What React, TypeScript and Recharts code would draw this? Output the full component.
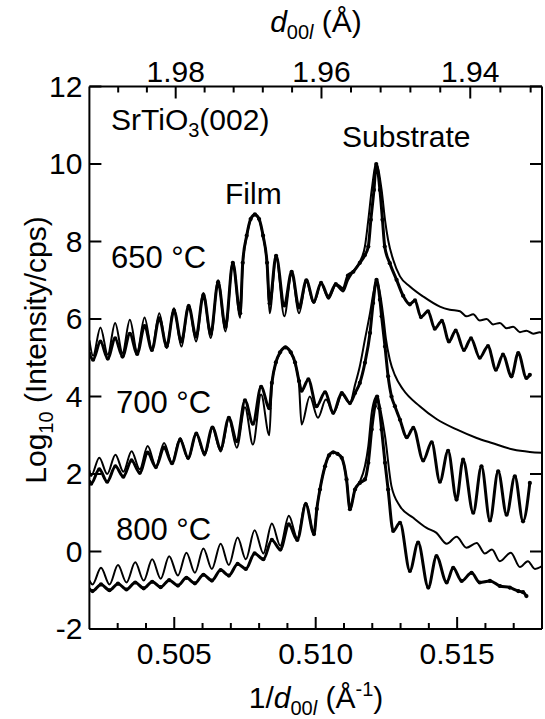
import React from "react";
import { LineChart, Line, XAxis, YAxis } from "recharts";

const FONT = "'Liberation Sans', Arial, Helvetica, sans-serif";
const P = { left: 89.4, right: 542, top: 86.5, bottom: 629 };

const xDomain = [0.502, 0.518];
const yDomain = [-2, 12];
const xTickValues = [0.503, 0.504, 0.505, 0.506, 0.507, 0.508, 0.509, 0.51, 0.511, 0.512, 0.513, 0.514, 0.515, 0.516, 0.517];
const xTickLabels = [0.505, 0.51, 0.515];
const yTickValues = [-2, 0, 2, 4, 6, 8, 10, 12];
const dTickValues = [1.988, 1.984, 1.98, 1.976, 1.972, 1.968, 1.964, 1.96, 1.956, 1.952, 1.948, 1.944, 1.94, 1.936, 1.932];
const dTickLabels = [1.98, 1.96, 1.94];

const meas650 = [
  [0.502, 5.1], [0.50213, 4.95], [0.50239, 5.42], [0.50265, 4.98], [0.50291, 5.5], [0.50317, 5.03], [0.50343, 5.62],
  [0.50369, 5.1], [0.50395, 5.82], [0.50421, 5.2], [0.50447, 6.02], [0.50473, 5.3], [0.50499, 6.22], [0.50525, 5.42],
  [0.50551, 6.33], [0.50577, 5.55], [0.50603, 6.62], [0.50629, 5.62], [0.50655, 6.95], [0.50681, 5.8], [0.50707, 7.45],
  [0.50733, 6.15], [0.50742, 7.45], [0.50756, 8.15], [0.5077, 8.58], [0.50785, 8.7], [0.508, 8.58], [0.50814, 8.15],
  [0.50828, 7.45], [0.50837, 6.4], [0.5086, 7.63], [0.50889, 6.35], [0.50915, 7.22], [0.50941, 6.3], [0.50967, 7.0],
  [0.50993, 6.45], [0.51019, 6.93], [0.51045, 6.58], [0.51071, 6.9], [0.51097, 6.78], [0.51114, 7.12], [0.51133, 7.22],
  [0.51156, 7.45], [0.51174, 7.65], [0.51186, 7.87], [0.51195, 8.56], [0.51206, 9.33], [0.51214, 10.0], [0.51227, 9.33],
  [0.51236, 8.56], [0.51244, 7.87], [0.51262, 7.44], [0.51286, 7.01], [0.51309, 6.6], [0.51333, 6.38], [0.51351, 6.48],
  [0.51372, 6.05], [0.51397, 6.2], [0.51421, 5.75], [0.51446, 5.95], [0.51471, 5.42], [0.51495, 5.7], [0.51524, 5.2],
  [0.51549, 5.5], [0.5158, 5.0], [0.51609, 5.3], [0.51637, 4.69], [0.51662, 5.08], [0.51692, 4.52], [0.51716, 5.12],
  [0.51745, 4.48], [0.51757, 4.56],
];

const sim650 = [
  [0.502, 5.45], [0.50213, 5.05], [0.50239, 5.78], [0.50265, 5.08], [0.50291, 5.9], [0.50317, 5.12], [0.50343, 5.98],
  [0.50369, 5.16], [0.50395, 6.04], [0.50421, 5.21], [0.50447, 6.15], [0.50473, 5.25], [0.50499, 6.28], [0.50525, 5.29],
  [0.50551, 6.37], [0.50577, 5.42], [0.50603, 6.67], [0.50629, 5.51], [0.50655, 7.0], [0.50681, 5.68], [0.50707, 7.48],
  [0.50733, 6.03], [0.50742, 7.4], [0.50756, 8.13], [0.5077, 8.56], [0.50785, 8.68], [0.508, 8.56], [0.50814, 8.13],
  [0.50828, 7.4], [0.50837, 6.15], [0.5086, 7.61], [0.50889, 6.07], [0.50915, 7.19], [0.50941, 6.15], [0.50967, 6.97],
  [0.50993, 6.41], [0.51019, 6.91], [0.51045, 6.52], [0.51071, 6.87], [0.51097, 6.71], [0.51114, 7.0], [0.51133, 7.23],
  [0.51156, 7.48], [0.51174, 7.87], [0.51186, 8.56], [0.51198, 9.33], [0.51214, 10.0], [0.51233, 9.33], [0.51245, 8.56],
  [0.51256, 8.04], [0.51274, 7.53], [0.51298, 7.1], [0.51333, 6.84], [0.5138, 6.58], [0.51439, 6.32], [0.51474, 6.24],
  [0.5151, 6.2], [0.51533, 6.07], [0.51557, 6.12], [0.5158, 5.96], [0.51604, 6.0], [0.51627, 5.86], [0.51651, 5.9],
  [0.51675, 5.76], [0.51698, 5.8], [0.51722, 5.66], [0.51745, 5.7], [0.51769, 5.62], [0.51792, 5.66], [0.518, 5.64],
];

const meas700 = [
  [0.502, 1.8], [0.50206, 1.75], [0.50235, 2.12], [0.50263, 1.8], [0.50292, 2.2], [0.5032, 1.93], [0.50349, 2.35],
  [0.50378, 2.03], [0.50406, 2.55], [0.50435, 2.18], [0.50464, 2.68], [0.50492, 2.28], [0.50521, 2.88], [0.50549, 2.42],
  [0.50578, 3.04], [0.50607, 2.54], [0.50635, 3.2], [0.50664, 2.65], [0.50693, 3.45], [0.50721, 2.85], [0.5075, 3.9],
  [0.50778, 3.3], [0.50807, 4.25], [0.50836, 3.7], [0.50845, 4.35], [0.50859, 4.88], [0.50874, 5.14], [0.50893, 5.27],
  [0.50912, 5.14], [0.50927, 4.88], [0.50941, 4.4], [0.5095, 4.15], [0.50974, 4.44], [0.51003, 3.75], [0.51033, 4.11],
  [0.51062, 3.58], [0.51092, 4.09], [0.51121, 3.83], [0.51139, 4.09], [0.51156, 4.35], [0.51174, 4.87], [0.51192, 5.64],
  [0.51203, 6.41], [0.51215, 7.01], [0.51227, 6.5], [0.51233, 6.07], [0.51245, 5.29], [0.51256, 4.52], [0.51268, 4.0],
  [0.5128, 3.75], [0.51298, 3.4], [0.51322, 2.95], [0.51345, 3.19], [0.5138, 2.35], [0.5141, 2.82], [0.51439, 1.8],
  [0.51468, 2.6], [0.51498, 1.34], [0.51521, 2.37], [0.51557, 1.0], [0.51586, 2.2], [0.51616, 0.8], [0.51645, 2.07],
  [0.51675, 0.95], [0.51704, 1.94], [0.51733, 0.78], [0.51757, 1.77],
];

const sim700 = [
  [0.502, 2.1], [0.50206, 1.95], [0.50235, 2.42], [0.50263, 2.0], [0.50292, 2.5], [0.5032, 2.06], [0.50349, 2.59],
  [0.50378, 2.12], [0.50406, 2.72], [0.50435, 2.2], [0.50464, 2.8], [0.50492, 2.28], [0.50521, 2.93], [0.50549, 2.38],
  [0.50578, 3.06], [0.50607, 2.48], [0.50635, 3.2], [0.50664, 2.58], [0.50693, 3.42], [0.50721, 2.68], [0.5075, 3.72],
  [0.50778, 2.76], [0.50807, 4.05], [0.50836, 3.0], [0.50845, 4.3], [0.50859, 4.85], [0.50874, 5.12], [0.50893, 5.25],
  [0.50912, 5.12], [0.50927, 4.85], [0.50941, 4.3], [0.5095, 3.28], [0.50979, 4.0], [0.51008, 3.45], [0.51036, 3.92],
  [0.51064, 3.58], [0.51093, 4.05], [0.51121, 3.83], [0.51139, 4.3], [0.51156, 4.78], [0.51174, 5.47], [0.51192, 6.15],
  [0.51206, 6.75], [0.51215, 7.0], [0.51225, 6.75], [0.51239, 6.07], [0.51248, 5.5], [0.51262, 4.95], [0.5128, 4.55],
  [0.51309, 4.18], [0.51368, 3.75], [0.51427, 3.42], [0.51498, 3.15], [0.51569, 2.93], [0.51623, 2.8], [0.51698, 2.63],
  [0.51757, 2.57], [0.518, 2.55],
];

const meas800 = [
  [0.502, -0.98], [0.50211, -1.02], [0.50241, -0.85], [0.50271, -1.0], [0.50301, -0.83], [0.50331, -0.98], [0.50362, -0.8],
  [0.50392, -0.95], [0.50422, -0.78], [0.50452, -0.92], [0.50482, -0.74], [0.50513, -0.88], [0.50543, -0.68], [0.50573, -0.82],
  [0.50603, -0.6], [0.50633, -0.75], [0.50664, -0.48], [0.50693, -0.62], [0.50724, -0.32], [0.50753, -0.45], [0.50784, -0.05],
  [0.50815, -0.2], [0.50845, 0.3], [0.50875, 0.05], [0.50905, 0.7], [0.50935, 0.3], [0.50965, 1.22], [0.50994, 0.45],
  [0.51004, 1.1], [0.51015, 1.6], [0.51033, 2.2], [0.51047, 2.48], [0.51062, 2.56], [0.51077, 2.52], [0.51092, 2.42],
  [0.51109, 1.86], [0.51121, 1.09], [0.51139, 1.6], [0.51156, 1.77], [0.51174, 1.86], [0.51186, 2.29], [0.51198, 3.15],
  [0.51209, 3.75], [0.51217, 4.0], [0.51225, 3.7], [0.51233, 3.15], [0.51245, 2.29], [0.51256, 1.6], [0.51274, 0.53],
  [0.51298, 0.74], [0.51333, -0.5], [0.51362, 0.23], [0.51398, -0.93], [0.51427, -0.12], [0.51463, -0.8], [0.51486, -0.42],
  [0.51516, -0.76], [0.51551, -0.55], [0.5158, -0.8], [0.51616, -0.76], [0.51651, -0.89], [0.51686, -0.93], [0.51716, -1.02],
  [0.51733, -1.05], [0.51745, -1.15],
];

const sim800 = [
  [0.502, -0.75], [0.50211, -0.85], [0.50241, -0.42], [0.50271, -0.85], [0.50301, -0.35], [0.50331, -0.8], [0.50362, -0.28],
  [0.50392, -0.75], [0.50422, -0.2], [0.50452, -0.7], [0.50482, -0.12], [0.50513, -0.62], [0.50543, -0.03], [0.50573, -0.55],
  [0.50603, 0.08], [0.50633, -0.45], [0.50664, 0.2], [0.50693, -0.35], [0.50724, 0.36], [0.50753, -0.2], [0.50784, 0.55],
  [0.50815, -0.05], [0.50845, 0.72], [0.50875, 0.15], [0.50905, 0.92], [0.50935, 0.35], [0.50965, 1.26], [0.50994, 0.45],
  [0.51004, 1.1], [0.51015, 1.6], [0.51033, 2.2], [0.51047, 2.48], [0.51062, 2.56], [0.51077, 2.52], [0.51092, 2.42],
  [0.51109, 1.86], [0.51121, 1.1], [0.51139, 1.6], [0.51156, 1.8], [0.51174, 2.2], [0.51186, 2.72], [0.51198, 3.58],
  [0.51215, 4.0], [0.51233, 3.5], [0.51245, 2.98], [0.51268, 1.68], [0.51298, 1.17], [0.51345, 0.87], [0.51392, 0.61],
  [0.51427, 0.48], [0.51463, 0.2], [0.51498, 0.38], [0.51533, 0.1], [0.51569, 0.22], [0.51598, -0.05], [0.51623, 0.05],
  [0.51651, -0.25], [0.5169, -0.03], [0.51722, -0.4], [0.5175, -0.25], [0.51775, -0.45], [0.518, -0.38],
];

const toRows = (pts: number[][]) => pts.map(([x, y]) => ({ x, y }));
const near = (a: number, list: number[], eps: number) => list.some((m) => Math.abs(m - a) < eps);

const BottomTick = (props: any) => {
  const { x, payload } = props;
  const v = payload.value;
  const major = near(v, xTickLabels, 1e-6);
  return (
    <g>
      <line x1={x} x2={x} y1={P.bottom} y2={P.bottom - (major ? 12 : 6)} stroke="#000" strokeWidth={2} />
      {major && (
        <text x={x} y={664} textAnchor="middle" fontSize={30} fontFamily={FONT} fill="#000">
          {v.toFixed(3)}
        </text>
      )}
    </g>
  );
};

const TopTick = (props: any) => {
  const { x, payload } = props;
  const d = 1 / payload.value;
  const major = near(d, dTickLabels, 1e-4);
  return (
    <g>
      <line x1={x} x2={x} y1={P.top} y2={P.top + (major ? 12 : 6)} stroke="#000" strokeWidth={2} />
      {major && (
        <text x={x} y={82} textAnchor="middle" fontSize={30} fontFamily={FONT} fill="#000">
          {d.toFixed(2)}
        </text>
      )}
    </g>
  );
};

const LeftTick = (props: any) => {
  const { y, payload } = props;
  return (
    <g>
      <line x1={P.left} x2={P.left + 12} y1={y} y2={y} stroke="#000" strokeWidth={2} />
      <text x={P.left - 7} y={y + 10} textAnchor="end" fontSize={30} fontFamily={FONT} fill="#000">
        {String(payload.value)}
      </text>
    </g>
  );
};

const RightTick = (props: any) => {
  const { y } = props;
  return <line x1={P.right} x2={P.right - 12} y1={y} y2={y} stroke="#000" strokeWidth={2} />;
};

export default function App() {
  const axisLine = { stroke: "#000", strokeWidth: 2 };
  const thick = { stroke: "#000", strokeWidth: 3 };
  const dot = { r: 2.1, fill: "#000", stroke: "none" };
  const thinW = 2;
  return (
    <div style={{ position: "absolute", left: 0, top: 0, width: 545, height: 719, background: "#fff" }}>
      <LineChart width={545} height={719} margin={{ top: 56.5, right: 2, bottom: 60, left: 29.4 }}>
        <XAxis
          xAxisId="b"
          dataKey="x"
          type="number"
          domain={xDomain}
          allowDataOverflow
          ticks={xTickValues}
          interval={0}
          height={30}
          axisLine={axisLine}
          tickLine={false}
          tick={(p: any) => <BottomTick {...p} />}
        />
        <XAxis
          xAxisId="t"
          orientation="top"
          dataKey="x"
          type="number"
          domain={xDomain}
          allowDataOverflow
          ticks={dTickValues.map((d) => 1 / d)}
          interval={0}
          height={30}
          axisLine={axisLine}
          tickLine={false}
          tick={(p: any) => <TopTick {...p} />}
        />
        <YAxis
          yAxisId="l"
          type="number"
          domain={yDomain}
          allowDataOverflow
          ticks={yTickValues}
          interval={0}
          width={60}
          axisLine={axisLine}
          tickLine={false}
          tick={(p: any) => <LeftTick {...p} />}
        />
        <YAxis
          yAxisId="r"
          orientation="right"
          type="number"
          domain={yDomain}
          allowDataOverflow
          ticks={yTickValues}
          interval={0}
          width={1}
          axisLine={axisLine}
          tickLine={false}
          tick={(p: any) => <RightTick {...p} />}
        />
        <Line xAxisId="b" yAxisId="l" data={toRows(meas650)} dataKey="y" type="monotone" {...thick} dot={dot} isAnimationActive={false} />
        <Line xAxisId="b" yAxisId="l" data={toRows(meas700)} dataKey="y" type="monotone" {...thick} dot={dot} isAnimationActive={false} />
        <Line xAxisId="b" yAxisId="l" data={toRows(meas800)} dataKey="y" type="monotone" {...thick} dot={dot} isAnimationActive={false} />
        <Line xAxisId="b" yAxisId="l" data={toRows(sim650)} dataKey="y" type="monotone" stroke="#000" strokeWidth={thinW} dot={false} isAnimationActive={false} />
        <Line xAxisId="b" yAxisId="l" data={toRows(sim700)} dataKey="y" type="monotone" stroke="#000" strokeWidth={thinW} dot={false} isAnimationActive={false} />
        <Line xAxisId="b" yAxisId="l" data={toRows(sim800)} dataKey="y" type="monotone" stroke="#000" strokeWidth={thinW} dot={false} isAnimationActive={false} />
      </LineChart>
      <svg width={545} height={719} style={{ position: "absolute", left: 0, top: 0, pointerEvents: "none" }} fontFamily={FONT} fill="#000">
        <text x={316} y={32} textAnchor="middle" fontSize={30}>
          <tspan fontStyle="italic">d</tspan>
          <tspan dy={7} fontSize={20}>00</tspan>
          <tspan fontSize={20} fontStyle="italic">l</tspan>
          <tspan dy={-7}> (Å)</tspan>
        </text>
        <text x={316} y={708} textAnchor="middle" fontSize={30}>
          <tspan>1/</tspan>
          <tspan fontStyle="italic">d</tspan>
          <tspan dy={7} fontSize={20}>00</tspan>
          <tspan fontSize={20} fontStyle="italic">l</tspan>
          <tspan dy={-7}> (Å</tspan>
          <tspan dy={-12} fontSize={20}>-1</tspan>
          <tspan dy={12}>)</tspan>
        </text>
        <text x={46} y={350} textAnchor="middle" fontSize={30} transform="rotate(-90 46 350)">
          <tspan>Log</tspan>
          <tspan dy={7} fontSize={20}>10</tspan>
          <tspan dy={-7}> (Intensity/cps)</tspan>
        </text>
        <text x={111} y={130} fontSize={30}>
          <tspan>SrTiO</tspan>
          <tspan dy={7} fontSize={20}>3</tspan>
          <tspan dy={-7}>(002)</tspan>
        </text>
        <text x={225} y={204} fontSize={30}>Film</text>
        <text x={342} y={147} fontSize={30}>Substrate</text>
        <text x={111} y={268} fontSize={31}>650 °C</text>
        <text x={116} y={413} fontSize={31}>700 °C</text>
        <text x={116} y={540} fontSize={31}>800 °C</text>
      </svg>
    </div>
  );
}
